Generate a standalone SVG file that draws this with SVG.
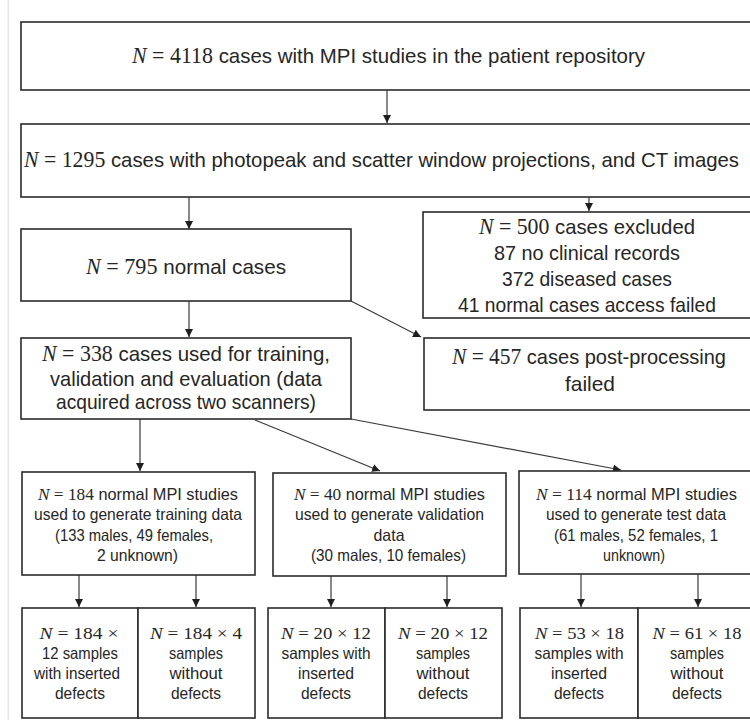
<svg xmlns="http://www.w3.org/2000/svg" width="750" height="720" viewBox="0 0 750 720">
<defs>
<style>
.bx{fill:#fff;stroke:#2b2b2b;stroke-width:1.6}
.c{fill:none;stroke:#3a3a3a;stroke-width:1.2}
.t{font-family:"Liberation Sans",Arial,sans-serif;font-size:21px;fill:#262626;text-anchor:middle}
.s{font-size:16.5px}
.m{font-family:"Liberation Serif","Times New Roman",serif;font-size:22.5px}
.s .m{font-size:17.5px}
.i{font-style:italic}
</style>
<marker id="ah" markerUnits="userSpaceOnUse" markerWidth="9" markerHeight="9" refX="8" refY="4" orient="auto">
<path d="M0,0 L8,4 L0,8 Z" fill="#1f1f1f"/>
</marker>
</defs>
<rect x="0" y="0" width="750" height="720" fill="#fff"/>
<line x1="8.3" y1="0" x2="8.3" y2="720" stroke="#e4e4e4" stroke-width="1.5"/>

<g id="connectors">
<line class="c" x1="387" y1="90" x2="387" y2="123" marker-end="url(#ah)"/>
<line class="c" x1="189" y1="197" x2="189" y2="229" marker-end="url(#ah)"/>
<line class="c" x1="589" y1="197" x2="589" y2="211" marker-end="url(#ah)"/>
<line class="c" x1="189" y1="301" x2="189" y2="337" marker-end="url(#ah)"/>
<line class="c" x1="351" y1="301" x2="421" y2="337" marker-end="url(#ah)"/>
<line class="c" x1="140" y1="419" x2="140" y2="471" marker-end="url(#ah)"/>
<line class="c" x1="255" y1="420" x2="380" y2="471" marker-end="url(#ah)"/>
<line class="c" x1="351" y1="419" x2="621" y2="470" marker-end="url(#ah)"/>
<line class="c" x1="79" y1="575" x2="79" y2="607" marker-end="url(#ah)"/>
<line class="c" x1="196" y1="575" x2="196" y2="607" marker-end="url(#ah)"/>
<line class="c" x1="331" y1="576" x2="331" y2="607" marker-end="url(#ah)"/>
<line class="c" x1="447" y1="576" x2="447" y2="607" marker-end="url(#ah)"/>
<line class="c" x1="581" y1="574" x2="581" y2="607" marker-end="url(#ah)"/>
<line class="c" x1="698" y1="574" x2="698" y2="607" marker-end="url(#ah)"/>
</g>

<g id="n4118">
<rect class="bx" x="21" y="22" width="745" height="68"/>
<text class="t" x="388.5" y="63" textLength="513" lengthAdjust="spacingAndGlyphs"><tspan class="m i">N</tspan><tspan class="m"> = 4118</tspan> cases with MPI studies in the patient repository</text>
</g>

<g id="n1295">
<rect class="bx" x="21" y="124" width="745" height="73"/>
<text class="t" x="381.5" y="167" textLength="715" lengthAdjust="spacingAndGlyphs"><tspan class="m i">N</tspan><tspan class="m"> = 1295</tspan> cases with photopeak and scatter window projections, and CT images</text>
</g>

<g id="n500">
<rect class="bx" x="423" y="212" width="332" height="106"/>
<text class="t" x="587" y="234" textLength="216" lengthAdjust="spacingAndGlyphs"><tspan class="m i">N</tspan><tspan class="m"> = 500</tspan> cases excluded</text>
<text class="t" x="587" y="260" textLength="186" lengthAdjust="spacingAndGlyphs">87 no clinical records</text>
<text class="t" x="587" y="286" textLength="170" lengthAdjust="spacingAndGlyphs">372 diseased cases</text>
<text class="t" x="587" y="312" textLength="258" lengthAdjust="spacingAndGlyphs">41 normal cases access failed</text>
</g>

<g id="n795">
<rect class="bx" x="21" y="229" width="330" height="72"/>
<text class="t" x="186" y="274" textLength="200" lengthAdjust="spacingAndGlyphs"><tspan class="m i">N</tspan><tspan class="m"> = 795</tspan> normal cases</text>
</g>

<g id="n338">
<rect class="bx" x="21" y="338" width="330" height="81"/>
<text class="t" x="186" y="361" textLength="288" lengthAdjust="spacingAndGlyphs"><tspan class="m i">N</tspan><tspan class="m"> = 338</tspan> cases used for training,</text>
<text class="t" x="186" y="386" textLength="272" lengthAdjust="spacingAndGlyphs">validation and evaluation (data</text>
<text class="t" x="186" y="409" textLength="260" lengthAdjust="spacingAndGlyphs">acquired across two scanners)</text>
</g>

<g id="n457">
<rect class="bx" x="424" y="338" width="332" height="72"/>
<text class="t" x="589" y="364" textLength="274" lengthAdjust="spacingAndGlyphs"><tspan class="m i">N</tspan><tspan class="m"> = 457</tspan> cases post-processing</text>
<text class="t" x="590" y="391" textLength="50" lengthAdjust="spacingAndGlyphs">failed</text>
</g>

<g id="n184">
<rect class="bx" x="22" y="472" width="233" height="103"/>
<text class="t s" x="138" y="500" textLength="200" lengthAdjust="spacingAndGlyphs"><tspan class="m i">N</tspan><tspan class="m"> = 184</tspan> normal MPI studies</text>
<text class="t s" x="138" y="520" textLength="208" lengthAdjust="spacingAndGlyphs">used to generate training data</text>
<text class="t s" x="134" y="541" textLength="158" lengthAdjust="spacingAndGlyphs">(133 males, 49 females,</text>
<text class="t s" x="137.5" y="561" textLength="81" lengthAdjust="spacingAndGlyphs">2 unknown)</text>
</g>

<g id="n40">
<rect class="bx" x="273" y="473" width="233" height="103"/>
<text class="t s" x="389.5" y="500" textLength="191" lengthAdjust="spacingAndGlyphs"><tspan class="m i">N</tspan><tspan class="m"> = 40</tspan> normal MPI studies</text>
<text class="t s" x="389.5" y="520" textLength="189" lengthAdjust="spacingAndGlyphs">used to generate validation</text>
<text class="t s" x="389" y="541" textLength="31" lengthAdjust="spacingAndGlyphs">data</text>
<text class="t s" x="388.5" y="561" textLength="155" lengthAdjust="spacingAndGlyphs">(30 males, 10 females)</text>
</g>

<g id="n114">
<rect class="bx" x="519" y="471" width="240" height="103"/>
<text class="t s" x="636.5" y="500" textLength="201" lengthAdjust="spacingAndGlyphs"><tspan class="m i">N</tspan><tspan class="m"> = 114</tspan> normal MPI studies</text>
<text class="t s" x="636" y="520" textLength="180" lengthAdjust="spacingAndGlyphs">used to generate test data</text>
<text class="t s" x="636" y="541" textLength="164" lengthAdjust="spacingAndGlyphs">(61 males, 52 females, 1</text>
<text class="t s" x="634" y="561" textLength="62" lengthAdjust="spacingAndGlyphs">unknown)</text>
</g>

<g id="train-def">
<rect class="bx" x="22" y="608" width="116" height="110"/>
<text class="t s" x="79" y="639" textLength="79" lengthAdjust="spacingAndGlyphs"><tspan class="m i">N</tspan><tspan class="m"> = 184 ×</tspan></text>
<text class="t s" x="80" y="659" textLength="76" lengthAdjust="spacingAndGlyphs">12 samples</text>
<text class="t s" x="77" y="679" textLength="86" lengthAdjust="spacingAndGlyphs">with inserted</text>
<text class="t s" x="80" y="699" textLength="50" lengthAdjust="spacingAndGlyphs">defects</text>
</g>
<g id="train-nodef">
<rect class="bx" x="138" y="608" width="117" height="110"/>
<text class="t s" x="196" y="639" textLength="92" lengthAdjust="spacingAndGlyphs"><tspan class="m i">N</tspan><tspan class="m"> = 184 × 4</tspan></text>
<text class="t s" x="196" y="659" textLength="54" lengthAdjust="spacingAndGlyphs">samples</text>
<text class="t s" x="196" y="679" textLength="53" lengthAdjust="spacingAndGlyphs">without</text>
<text class="t s" x="196" y="699" textLength="50" lengthAdjust="spacingAndGlyphs">defects</text>
</g>

<g id="val-def">
<rect class="bx" x="268" y="608" width="117" height="110"/>
<text class="t s" x="326" y="639" textLength="90" lengthAdjust="spacingAndGlyphs"><tspan class="m i">N</tspan><tspan class="m"> = 20 × 12</tspan></text>
<text class="t s" x="326" y="659" textLength="89" lengthAdjust="spacingAndGlyphs">samples with</text>
<text class="t s" x="326" y="679" textLength="56" lengthAdjust="spacingAndGlyphs">inserted</text>
<text class="t s" x="326" y="699" textLength="50" lengthAdjust="spacingAndGlyphs">defects</text>
</g>
<g id="val-nodef">
<rect class="bx" x="385" y="608" width="117" height="110"/>
<text class="t s" x="443" y="639" textLength="90" lengthAdjust="spacingAndGlyphs"><tspan class="m i">N</tspan><tspan class="m"> = 20 × 12</tspan></text>
<text class="t s" x="443" y="659" textLength="54" lengthAdjust="spacingAndGlyphs">samples</text>
<text class="t s" x="443" y="679" textLength="53" lengthAdjust="spacingAndGlyphs">without</text>
<text class="t s" x="443" y="699" textLength="50" lengthAdjust="spacingAndGlyphs">defects</text>
</g>

<g id="test-def">
<rect class="bx" x="520" y="608" width="118" height="110"/>
<text class="t s" x="579.5" y="639" textLength="89" lengthAdjust="spacingAndGlyphs"><tspan class="m i">N</tspan><tspan class="m"> = 53 × 18</tspan></text>
<text class="t s" x="579" y="659" textLength="89" lengthAdjust="spacingAndGlyphs">samples with</text>
<text class="t s" x="579" y="679" textLength="56" lengthAdjust="spacingAndGlyphs">inserted</text>
<text class="t s" x="579" y="699" textLength="50" lengthAdjust="spacingAndGlyphs">defects</text>
</g>
<g id="test-nodef">
<rect class="bx" x="638" y="608" width="120" height="110"/>
<text class="t s" x="697" y="639" textLength="89" lengthAdjust="spacingAndGlyphs"><tspan class="m i">N</tspan><tspan class="m"> = 61 × 18</tspan></text>
<text class="t s" x="697" y="659" textLength="54" lengthAdjust="spacingAndGlyphs">samples</text>
<text class="t s" x="697" y="679" textLength="53" lengthAdjust="spacingAndGlyphs">without</text>
<text class="t s" x="697" y="699" textLength="50" lengthAdjust="spacingAndGlyphs">defects</text>
</g>
</svg>
